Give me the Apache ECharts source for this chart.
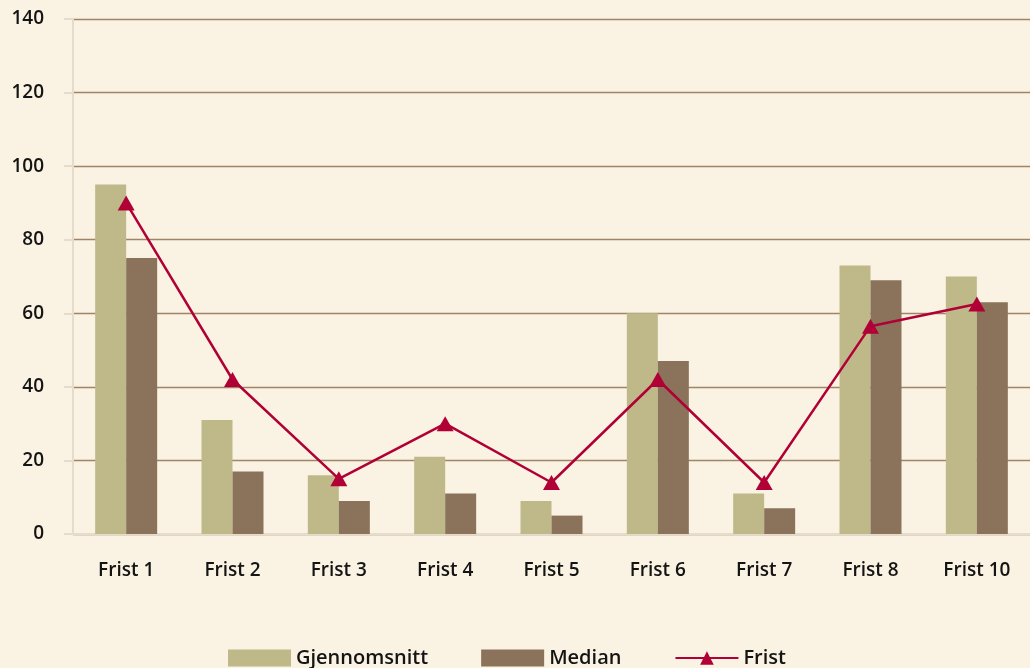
<!DOCTYPE html>
<html><head><meta charset="utf-8">
<script src="https://cdn.jsdelivr.net/npm/echarts@6/dist/echarts.min.js"></script>
<style>html,body{margin:0;padding:0;background:#faf2e2}#c{width:1030px;height:668px}</style>
</head><body><div id="c"></div>
<script>
const categories = ['Frist 1','Frist 2','Frist 3','Frist 4','Frist 5','Frist 6','Frist 7','Frist 8','Frist 10'];
const gjennomsnitt = [95, 31, 16, 21, 9, 60, 11, 73, 70];
const median = [75, 17, 9, 11, 5, 47, 7, 69, 63];
const frist = [90, 42, 15, 30, 14, 42, 14, 56.5, 62.5];
const yTicks = [0, 20, 40, 60, 80, 100, 120, 140];

const font = '"Open Sans", "Noto Sans", sans-serif';
const chart = echarts.init(document.getElementById('c'));
chart.setOption({
  backgroundColor: '#faf2e2',
  animation: false,
  grid: {left: 73, right: 0, top: 19, bottom: 134, containLabel: false},
  legend: {
    bottom: -5, left: 223, itemWidth: 63, itemHeight: 17, itemGap: 53,
    textStyle: {fontFamily: font, fontSize: 20, fontWeight: 600, color: '#141414'},
    data: [
      {name: 'Gjennomsnitt', icon: 'rect'},
      {name: 'Median', icon: 'rect'},
      {name: 'Frist'}
    ]
  },
  xAxis: [{
    type: 'category', data: categories,
    axisLine: {lineStyle: {color: '#e5dccb', width: 2}},
    axisTick: {length: 8, lineStyle: {color: '#e5dccb', width: 2}},
    axisLabel: {fontFamily: font, fontSize: 19, fontWeight: 600, color: '#141414', margin: 27}
  }, {
    type: 'category', data: categories, position: 'bottom',
    axisLine: {show: false},
    axisTick: {inside: true, length: 9, lineStyle: {color: '#e5dccb', width: 2}},
    axisLabel: {show: false}
  }],
  yAxis: {
    type: 'value', min: yTicks[0], max: yTicks[yTicks.length - 1], interval: 20,
    axisLine: {show: true, lineStyle: {color: '#e5dccb', width: 2}},
    axisTick: {show: true, length: 9, lineStyle: {color: '#e5dccb', width: 2}},
    axisLabel: {fontFamily: font, fontSize: 19, fontWeight: 600, color: '#141414', margin: 29},
    splitLine: {lineStyle: {color: '#a08468', width: 1.3}}
  },
  series: [
    {name: 'Gjennomsnitt', type: 'bar', data: gjennomsnitt, barWidth: 31, barGap: '0%',
     itemStyle: {color: '#bfb98a'}},
    {name: 'Median', type: 'bar', data: median, barWidth: 31, barGap: '0%',
     itemStyle: {color: '#8b735b'}},
    {name: 'Frist', type: 'line', data: frist, symbol: 'triangle', symbolSize: [17, 15],
     lineStyle: {color: '#b00035', width: 2.5}, itemStyle: {color: '#b00035'}, z: 5}
  ]
});
</script></body></html>
